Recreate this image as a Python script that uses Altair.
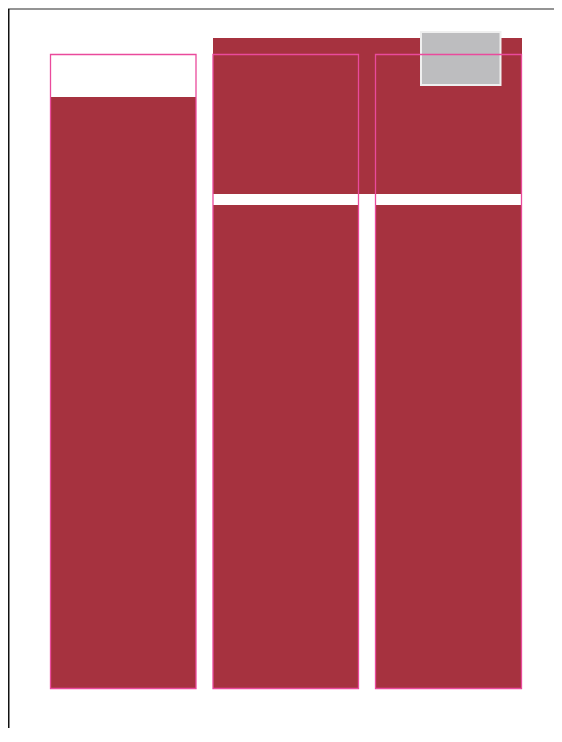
import altair as alt
import pandas as pd

# Chart units (origin = top-left of the plot area)
W, H = 546, 720

columns = ["A", "B", "C"]
col_left = [42.5, 205.0, 367.5]
col_right = [188.0, 350.5, 513.5]
col_top = [89.0, 197.0, 197.0]
col_bottom = [680.5, 680.5, 680.5]
frame_top = [46.5, 46.5, 46.5]

band_left, band_right = [205.0], [514.0]
band_top, band_bottom = [30.0], [186.0]

box_left, box_right = [413.0], [492.5]
box_top, box_bottom = [24.0], [77.0]

RED = "#a6323f"
PINK = "#ea4a9c"

xs = alt.Scale(domain=[0, W], range=[0, W], zero=False, nice=False)
ys = alt.Scale(domain=[0, H], range=[0, H], zero=False, nice=False)

cols = pd.DataFrame({"col": columns, "x": col_left, "x2": col_right,
                     "y": col_top, "y2": col_bottom, "ft": frame_top})
band = pd.DataFrame({"x": band_left, "x2": band_right, "y": band_top, "y2": band_bottom})
box = pd.DataFrame({"x": box_left, "x2": box_right, "y": box_top, "y2": box_bottom})
hline = pd.DataFrame({"x": [0.0], "x2": [W], "y": [1.0]})
vline = pd.DataFrame({"x": [0.75], "y": [1.0], "y2": [H]})

def enc(ch, y="y", y2="y2"):
    return ch.encode(
        x=alt.X("x:Q", scale=xs, axis=None),
        x2="x2:Q",
        y=alt.Y(f"{y}:Q", scale=ys, axis=None),
        y2=f"{y2}:Q",
    )

fills = enc(alt.Chart(cols).mark_rect(color=RED))
bandl = enc(alt.Chart(band).mark_rect(color=RED))
boxl = enc(alt.Chart(box).mark_rect(fill="#bdbdbf", stroke="#efefef", strokeWidth=2))
frames = enc(alt.Chart(cols).mark_rect(fillOpacity=0, stroke=PINK, strokeWidth=1.3), y="ft")

top = alt.Chart(hline).mark_rule(color="#707070", strokeWidth=1.5).encode(
    x=alt.X("x:Q", scale=xs, axis=None), x2="x2:Q",
    y=alt.Y("y:Q", scale=ys, axis=None))
left = alt.Chart(vline).mark_rule(color="#111111", strokeWidth=1.5).encode(
    x=alt.X("x:Q", scale=xs, axis=None),
    y=alt.Y("y:Q", scale=ys, axis=None), y2="y2:Q")

chart = alt.layer(fills, bandl, boxl, frames, top, left).properties(
    width=W, height=H, padding=0,
    autosize=alt.AutoSizeParams(type="none"),
).configure_view(stroke=None)

chart.save("out.html", embed_options={"renderer": "svg", "actions": False})
